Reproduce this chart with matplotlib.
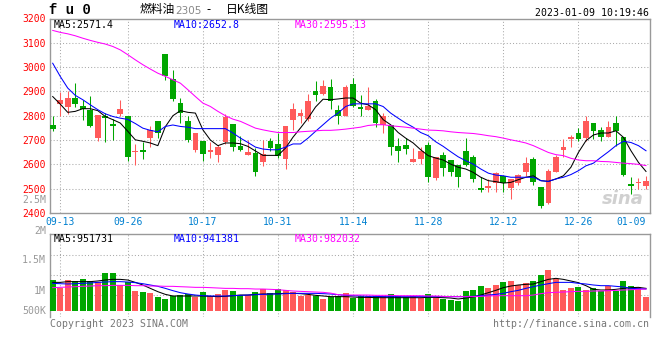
import numpy as np
import matplotlib.pyplot as plt

W, H = 660, 360

tick_idx = [1, 10, 20, 30, 40, 50, 60, 70, 79]
tick_lbl = ['09-13', '09-26', '10-17', '10-31', '11-14', '11-28', '12-12', '12-26', '01-09']

open_ = [2763, 2849, 2834, 2873, 2841, 2822, 2707, 2801, 2767, 2808,
         2797, 2651, 2660, 2707, 2779, 3055, 2952, 2852, 2779, 2660,
         2697, 2649, 2637, 2690, 2767, 2677, 2640, 2647, 2608, 2697,
         2685, 2623, 2784, 2797, 2786, 2903, 2889, 2919, 2825, 2797,
         2932, 2836, 2822, 2862, 2763, 2763, 2674, 2681, 2608, 2622,
         2679, 2542, 2640, 2618, 2597, 2655, 2629, 2501, 2501, 2523,
         2553, 2501, 2525, 2567, 2622, 2508, 2440, 2570, 2659, 2704,
         2729, 2708, 2770, 2742, 2714, 2770, 2714, 2519, 2523, 2510]
high = [2800, 2896, 2900, 2934, 2863, 2882, 2804, 2811, 2786, 2866,
        2797, 2685, 2693, 2756, 2779, 3055, 2989, 2873, 2797, 2729,
        2697, 2692, 2681, 2807, 2767, 2718, 2701, 2667, 2701, 2708,
        2731, 2756, 2852, 2829, 2890, 2941, 2948, 2952, 2845, 2927,
        2955, 2886, 2918, 2870, 2811, 2763, 2708, 2708, 2667, 2670,
        2693, 2629, 2649, 2618, 2597, 2708, 2640, 2547, 2540, 2567,
        2553, 2540, 2560, 2629, 2629, 2508, 2581, 2640, 2704, 2721,
        2749, 2797, 2770, 2752, 2779, 2800, 2714, 2547, 2542, 2553]
low = [2736, 2800, 2808, 2838, 2784, 2752, 2695, 2692, 2701, 2800,
       2612, 2596, 2623, 2670, 2708, 2945, 2859, 2770, 2692, 2649,
       2612, 2626, 2608, 2684, 2653, 2653, 2637, 2551, 2592, 2653,
       2626, 2581, 2742, 2770, 2777, 2859, 2886, 2827, 2767, 2797,
       2838, 2800, 2822, 2752, 2729, 2640, 2608, 2644, 2608, 2600,
       2526, 2537, 2553, 2553, 2508, 2594, 2526, 2485, 2485, 2485,
       2488, 2457, 2516, 2553, 2516, 2419, 2437, 2567, 2631, 2673,
       2697, 2697, 2704, 2695, 2714, 2677, 2553, 2478, 2499, 2499]
close = [2747, 2866, 2873, 2849, 2827, 2756, 2804, 2789, 2756, 2829,
         2629, 2656, 2649, 2742, 2729, 2962, 2868, 2811, 2701, 2729,
         2643, 2660, 2671, 2795, 2670, 2660, 2651, 2567, 2644, 2667,
         2633, 2756, 2829, 2811, 2862, 2884, 2923, 2859, 2800, 2918,
         2841, 2829, 2842, 2770, 2800, 2670, 2653, 2663, 2623, 2655,
         2549, 2629, 2585, 2567, 2549, 2597, 2540, 2494, 2512, 2563,
         2522, 2540, 2556, 2605, 2529, 2430, 2571, 2629, 2673, 2711,
         2704, 2777, 2738, 2714, 2755, 2738, 2558, 2512, 2529, 2531]

ma5 = [2879, 2848, 2814, 2818, 2829, 2829, 2821, 2797, 2784, 2770,
       2736, 2701, 2695, 2688, 2677, 2755, 2800, 2821, 2814, 2811,
       2742, 2700, 2677, 2688, 2688, 2685, 2674, 2655, 2637, 2637,
       2637, 2667, 2712, 2750, 2790, 2836, 2868, 2866, 2869, 2873,
       2873, 2852, 2845, 2825, 2784, 2763, 2731, 2708, 2688, 2660,
       2636, 2626, 2618, 2601, 2588, 2581, 2567, 2547, 2533, 2529,
       2523, 2526, 2537, 2547, 2553, 2533, 2530, 2540, 2553, 2588,
       2649, 2697, 2721, 2729, 2729, 2738, 2711, 2656, 2608, 2571]
ma10 = [3016, 2962, 2914, 2884, 2866, 2845, 2825, 2808, 2797, 2790,
        2785, 2768, 2749, 2740, 2734, 2756, 2762, 2756, 2753, 2747,
        2747, 2747, 2747, 2747, 2729, 2708, 2690, 2671, 2663, 2660,
        2660, 2671, 2684, 2684, 2708, 2736, 2763, 2790, 2811, 2838,
        2849, 2849, 2849, 2849, 2838, 2811, 2790, 2770, 2753, 2731,
        2718, 2693, 2674, 2652, 2631, 2615, 2601, 2581, 2564, 2556,
        2553, 2547, 2547, 2547, 2547, 2533, 2530, 2540, 2547, 2558,
        2574, 2594, 2605, 2629, 2652, 2677, 2695, 2690, 2677, 2656]
ma30 = [3151, 3143, 3137, 3129, 3119, 3110, 3102, 3095, 3085, 3071,
        3051, 3030, 3010, 2992, 2975, 2962, 2948, 2934, 2907, 2879,
        2852, 2838, 2818, 2800, 2786, 2777, 2763, 2749, 2742, 2736,
        2731, 2731, 2731, 2734, 2736, 2738, 2740, 2740, 2742, 2745,
        2749, 2753, 2760, 2763, 2763, 2759, 2756, 2753, 2749, 2745,
        2741, 2740, 2738, 2734, 2731, 2729, 2727, 2723, 2718, 2714,
        2708, 2701, 2695, 2688, 2677, 2663, 2649, 2640, 2636, 2625,
        2618, 2615, 2615, 2612, 2611, 2608, 2605, 2603, 2600, 2595]

# volume in thousands
vol = [1178, 1039, 1178, 1162, 1195, 1162, 1139, 1289, 1289, 1095,
       1139, 995, 984, 956, 901, 862, 912, 928, 939, 901,
       973, 912, 939, 1012, 995, 928, 928, 973, 1023, 956,
       1028, 1012, 984, 912, 928, 917, 862, 901, 912, 967,
       873, 912, 912, 912, 912, 945, 912, 901, 912, 884,
       945, 884, 862, 845, 828, 1001, 1012, 1078, 1051, 1095,
       1151, 1162, 1095, 1134, 1162, 1262, 1345, 1195, 1012, 1051,
       1067, 1012, 1051, 1001, 1078, 1001, 1162, 1078, 1067, 901]
vma5 = [1139, 1139, 1151, 1151, 1151, 1151, 1162, 1178, 1189, 1189,
        1178, 1139, 1095, 1039, 984, 939, 912, 912, 912, 912,
        912, 906, 901, 906, 917, 928, 928, 939, 945, 945,
        951, 956, 956, 951, 939, 923, 912, 901, 901, 901,
        895, 889, 889, 884, 884, 884, 884, 884, 884, 884,
        889, 889, 884, 878, 862, 878, 895, 928, 967, 1006,
        1051, 1078, 1095, 1106, 1112, 1151, 1189, 1206, 1189, 1162,
        1134, 1084, 1023, 1012, 1012, 1023, 1039, 1051, 1056, 1039]
vma10 = [1123, 1117, 1112, 1117, 1123, 1128, 1139, 1145, 1151, 1151,
         1145, 1134, 1117, 1095, 1073, 1039, 1001, 967, 945, 928,
         917, 912, 912, 912, 917, 923, 928, 934, 939, 945,
         945, 951, 956, 956, 956, 956, 951, 945, 934, 923,
         917, 912, 906, 906, 901, 901, 901, 901, 901, 901,
         901, 901, 901, 901, 901, 901, 906, 917, 928, 939,
         956, 984, 1006, 1039, 1067, 1095, 1117, 1139, 1139, 1139,
         1123, 1112, 1095, 1084, 1084, 1073, 1062, 1039, 1034, 1028]
vma30 = [1051, 1056, 1062, 1067, 1073, 1078, 1084, 1084, 1089, 1089,
         1089, 1084, 1084, 1078, 1078, 1073, 1073, 1067, 1062, 1056,
         1056, 1051, 1045, 1039, 1039, 1034, 1034, 1028, 1028, 1023,
         1017, 1006, 995, 989, 984, 978, 973, 960, 934, 928,
         928, 928, 928, 923, 923, 923, 917, 917, 917, 917,
         912, 912, 906, 901, 901, 901, 901, 906, 912, 917,
         917, 917, 917, 917, 928, 951, 967, 973, 978, 984,
         989, 989, 995, 995, 1001, 1006, 1012, 1017, 1023, 1028]

RED = '#ff5a5a'
GREEN = '#00a600'
GRID = '#aaaaaa'
FRAME = '#999999'
XCOL = '#0080d0'
MONO = 'DejaVu Sans Mono'
LW = 0.75


def fx(x):
    return x / W


def fy(y):
    return 1 - y / H


def box(l, t, r, b):
    return [l / W, 1 - b / H, (r - l) / W, (b - t) / H]


x = np.arange(len(close))
x0, dx = 52.7, 7.51
xl = ((50 - x0) / dx, (649.5 - x0) / dx)
grid_x = tick_idx[:-1]

fig = plt.figure(figsize=(W / 100, H / 100), dpi=100)
ax = fig.add_axes(box(50, 18.5, 649.5, 213))
axv = fig.add_axes(box(50, 234, 649.5, 317))

colors = [RED if c >= o else GREEN for o, c in zip(open_, close)]

# candles
ax.vlines(x, low, high, colors=colors, linewidth=LW, zorder=3)
body_lo = np.minimum(open_, close)
body_h = np.maximum(np.abs(np.array(close) - np.array(open_)), 3)
ax.bar(x, body_h, bottom=body_lo, width=0.76, color=colors, linewidth=0, zorder=4)

ax.plot(x, ma5, color='black', lw=LW, zorder=5)
ax.plot(x, ma10, color='#0000ff', lw=LW, zorder=5)
ax.plot(x, ma30, color='#ff00ff', lw=LW, zorder=5)

ax.set_xlim(*xl)
ax.set_ylim(2400, 3200)
ax.set_yticks(range(2400, 3201, 100))
ax.tick_params(axis='y', length=0, pad=3, labelcolor='#ff0000', labelsize=7)
for t in ax.get_yticklabels():
    t.set_fontfamily(MONO)
ax.set_xticks(tick_idx)
ax.set_xticklabels(tick_lbl)
ax.tick_params(axis='x', length=0, pad=3, labelcolor=XCOL, labelsize=7)
for t in ax.get_xticklabels():
    t.set_fontfamily(MONO)
ax.get_xticklabels()[-1].set_ha('right')
for yv in range(2500, 3200, 100):
    ax.axhline(yv, color=GRID, lw=LW, ls=(0, (1, 2)), zorder=1)
for gx in grid_x:
    ax.axvline(gx, color=GRID, lw=LW, ls=(0, (1, 2)), zorder=1)
for s in ax.spines.values():
    s.set_color(FRAME)
    s.set_linewidth(1.0)

# volume
vol_base = 663
axv.bar(x, np.array(vol) - vol_base, bottom=vol_base, width=0.8, color=colors, linewidth=0, zorder=3)
axv.plot(x, vma5, color='black', lw=LW, zorder=5)
axv.plot(x, vma10, color='#0000ff', lw=LW, zorder=5)
axv.plot(x, vma30, color='#ff00ff', lw=LW, zorder=5)
axv.set_xlim(*xl)
axv.set_ylim(562, 1945)
axv.set_xticks([])
axv.set_yticks([])
for yv in [1595, 1262, 928]:
    axv.axhline(yv, color=GRID, lw=LW, ls=(0, (1, 2)), zorder=1)
for gx in grid_x:
    axv.axvline(gx, color=GRID, lw=LW, ls=(0, (1, 2)), zorder=1)
for s in axv.spines.values():
    s.set_color(FRAME)
    s.set_linewidth(1.0)
axv.spines['bottom'].set_visible(False)

# header
fig.text(fx(49), fy(10), 'f u 0', fontfamily='Liberation Mono', fontweight='bold',
         fontsize=10, va='center', ha='left')
cjk = ['Noto Sans CJK SC', 'DejaVu Sans']
fig.text(fx(140), fy(10), '燃料油', fontfamily=cjk, fontsize=8.5, va='center', ha='left')
fig.text(fx(175), fy(10.5), '2305', fontfamily='DejaVu Sans', fontsize=7.5, color='#888888',
         va='center', ha='left')
fig.text(fx(206), fy(10), '-', fontfamily=cjk, fontsize=8.5, va='center', ha='left')
fig.text(fx(226), fy(10), '日K线图', fontfamily=cjk, fontsize=8.5, va='center', ha='left')
fig.text(fx(649), fy(12.5), '2023-01-09 10:19:46', fontfamily=MONO, fontsize=7.1,
         va='center', ha='right')

fig.text(fx(54), fy(24.5), 'MA5:2571.4', fontfamily=MONO, fontsize=7.1, va='center')
fig.text(fx(174), fy(24.5), 'MA10:2652.8', fontfamily=MONO, fontsize=7.1, color='#0000ff', va='center')
fig.text(fx(295), fy(24.5), 'MA30:2595.13', fontfamily=MONO, fontsize=7.1, color='#ff00ff', va='center')

fig.text(fx(54), fy(239), 'MA5:951731', fontfamily=MONO, fontsize=7.1, va='center')
fig.text(fx(174), fy(239), 'MA10:941381', fontfamily=MONO, fontsize=7.1, color='#0000ff', va='center')
fig.text(fx(295), fy(239), 'MA30:982032', fontfamily=MONO, fontsize=7.1, color='#ff00ff', va='center')

vlabels = [('2.5M', 200), ('2M', 231), ('1.5M', 260), ('1M', 290.5), ('500K', 311)]
for txt, yy in vlabels:
    fig.text(fx(46), fy(yy), txt, fontfamily=MONO, fontsize=7.1, color='#999999',
             va='center', ha='right')

fig.text(fx(50), fy(324), 'Copyright 2023 SINA.COM', fontfamily=MONO, fontsize=7.1,
         color='#777777', va='center', ha='left')
fig.text(fx(649), fy(324), 'http://finance.sina.com.cn', fontfamily=MONO, fontsize=7.1,
         color='#777777', va='center', ha='right')
fig.text(fx(623), fy(199), 'sina', fontfamily='DejaVu Sans', fontweight='bold', style='italic',
         fontsize=13, color='#d0d0d0', va='center', ha='center', zorder=0)

fig.savefig('out.png', dpi=100, facecolor='white')
